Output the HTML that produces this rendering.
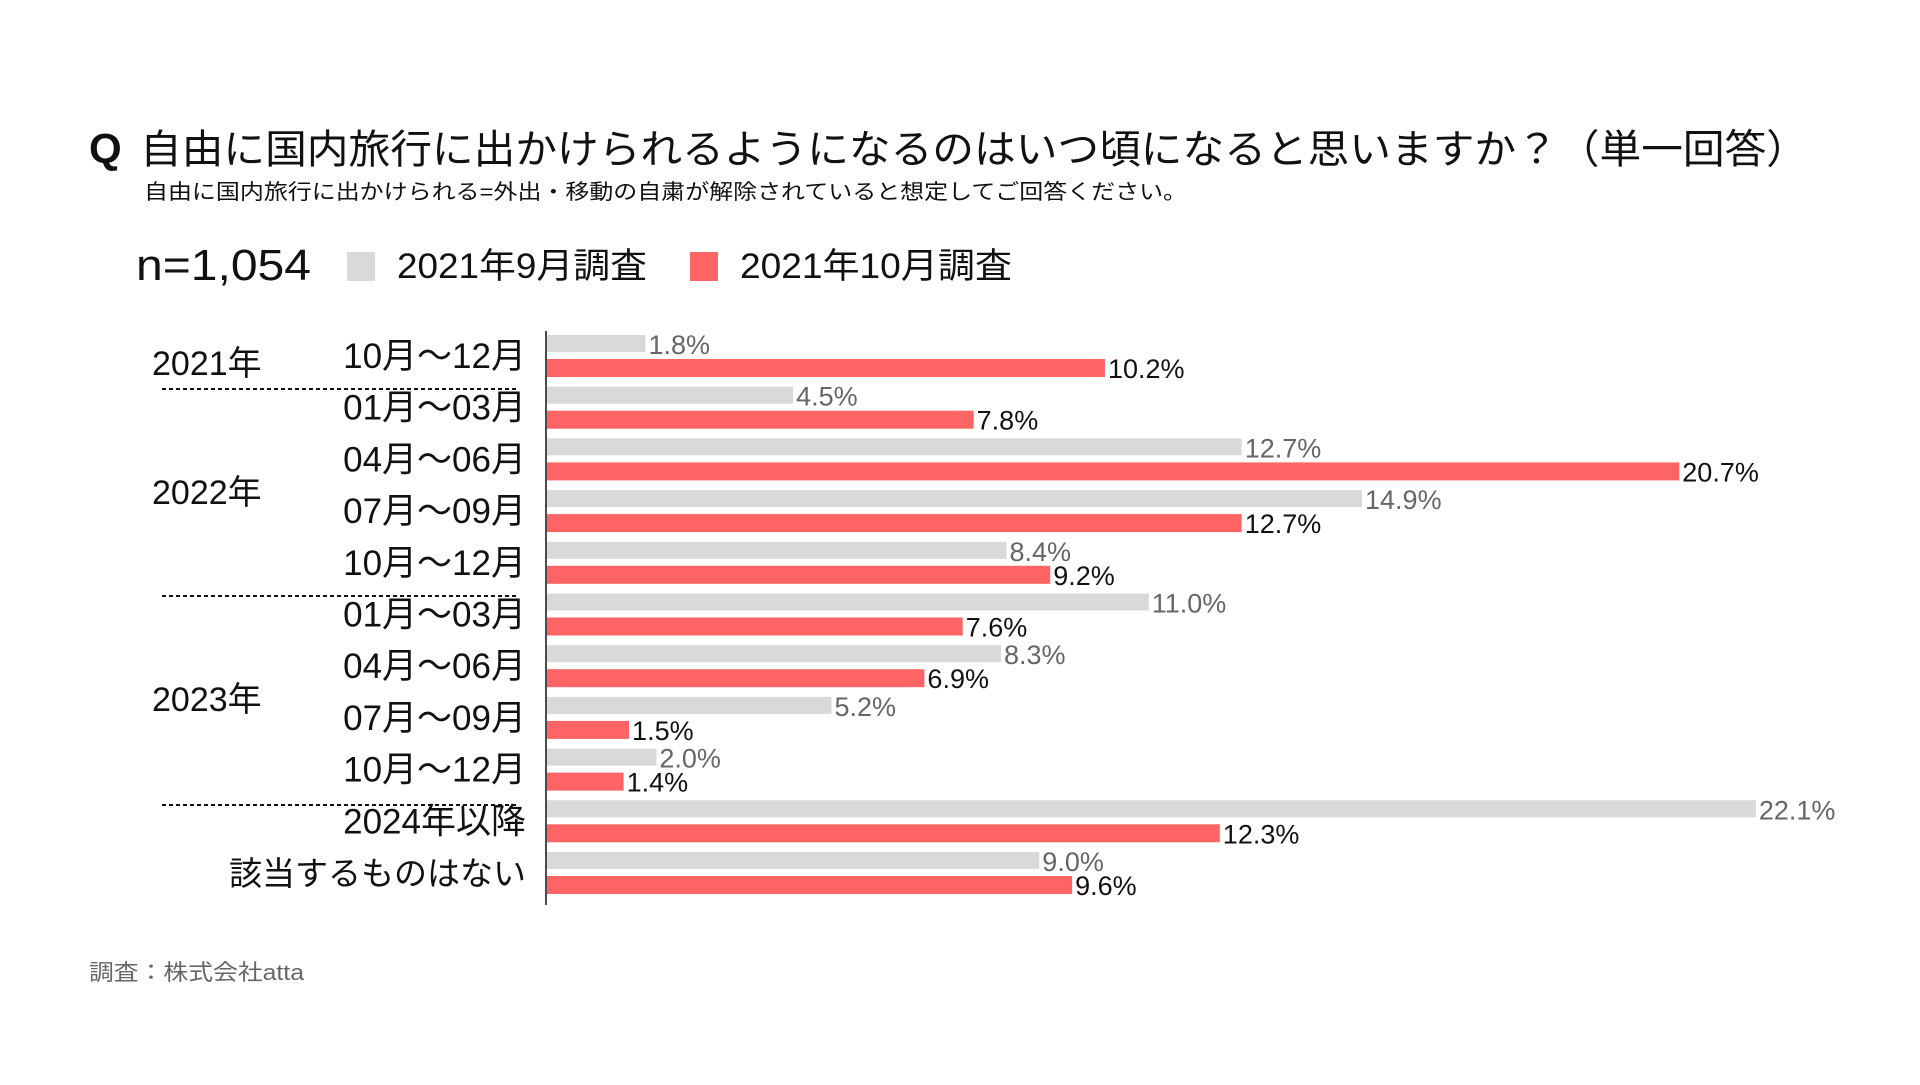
<!DOCTYPE html>
<html><head><meta charset="utf-8">
<style>
html,body{margin:0;padding:0;background:#fff;}
body{width:1920px;height:1080px;overflow:hidden;font-family:"Liberation Sans","Noto Sans CJK JP",sans-serif;}
svg text{font-family:"Liberation Sans","Noto Sans CJK JP",sans-serif;}
</style></head>
<body>
<svg id="chart" width="1920" height="1080">
  <text x="89" y="163" font-size="42" font-weight="bold" fill="#111">Q</text>
  <text x="140" y="163" font-size="40" fill="#111" textLength="1668" lengthAdjust="spacingAndGlyphs">自由に国内旅行に出かけられるようになるのはいつ頃になると思いますか？（単一回答）</text>
  <text x="144" y="199" font-size="21" fill="#111" textLength="1043" lengthAdjust="spacingAndGlyphs">自由に国内旅行に出かけられる=外出・移動の自粛が解除されていると想定してご回答ください。</text>
  <text x="136" y="280" font-size="44" fill="#111" textLength="175" lengthAdjust="spacingAndGlyphs">n=1,054</text>
  <rect x="347" y="252" width="28" height="29" fill="#d9d9d9"/>
  <text x="397" y="278" font-size="35" fill="#111" textLength="250" lengthAdjust="spacingAndGlyphs">2021年9月調査</text>
  <rect x="690" y="252" width="28" height="29" fill="#fe6464"/>
  <text x="740" y="278" font-size="35" fill="#111" textLength="272" lengthAdjust="spacingAndGlyphs">2021年10月調査</text>
  <line x1="546" y1="331" x2="546" y2="905" stroke="#111" stroke-width="1.5"/>
  <text x="152" y="375" font-size="34" fill="#111">2021年</text>
  <text x="152" y="504" font-size="34" fill="#111">2022年</text>
  <text x="152" y="711" font-size="34" fill="#111">2023年</text>
  <line x1="162" y1="389" x2="518" y2="389" stroke="#111" stroke-width="2" stroke-dasharray="4,3"/>
  <line x1="162" y1="596" x2="518" y2="596" stroke="#111" stroke-width="2" stroke-dasharray="4,3"/>
  <line x1="162" y1="805" x2="518" y2="805" stroke="#111" stroke-width="2" stroke-dasharray="4,3"/>
  <g id="bars"></g>
  <text x="89" y="980" font-size="22" fill="#666" textLength="215" lengthAdjust="spacingAndGlyphs">調査：株式会社atta</text>
</svg>
<script>
const categories = ["10月～12月","01月～03月","04月～06月","07月～09月","10月～12月","01月～03月","04月～06月","07月～09月","10月～12月","2024年以降","該当するものはない"];
const septValues = [1.8,4.5,12.7,14.9,8.4,11.0,8.3,5.2,2.0,22.1,9.0];
const octValues = [10.2,7.8,20.7,12.7,9.2,7.6,6.9,1.5,1.4,12.3,9.6];

const NS = "http://www.w3.org/2000/svg";
const g = document.getElementById("bars");
const x0 = 547, perPct = 54.7, rowTop = 335, pitch = 51.7;
function xScale(v){ return v * perPct; }
function mk(tag, attrs){ const e = document.createElementNS(NS, tag); for (const k in attrs) e.setAttribute(k, attrs[k]); g.appendChild(e); return e; }
categories.forEach((c, i) => {
  const top = rowTop + i * pitch;
  const last = i === categories.length - 1;
  const lab = mk("text", {x: 526, y: top + 33, "font-size": last ? 33 : 35, fill: "#111", "text-anchor": "end"});
  lab.textContent = c;
  
  
  const w1 = xScale(septValues[i]);
  const b1 = mk("rect", {x: x0, y: top, width: w1, height: 17, fill: "#d9d9d9"});
  
  
  const t1 = mk("text", {x: x0 + w1 + 3, y: top + 19, "font-size": 27, fill: "#666"});
  t1.textContent = septValues[i].toFixed(1) + "%";
  
  
  const w2 = xScale(octValues[i]);
  const b2 = mk("rect", {x: x0, y: top + 24, width: w2, height: 18, fill: "#fe6464"});
  
  
  const t2 = mk("text", {x: x0 + w2 + 3, y: top + 43, "font-size": 27, fill: "#111"});
  t2.textContent = octValues[i].toFixed(1) + "%";
  
  
});
</script>
</body></html>
